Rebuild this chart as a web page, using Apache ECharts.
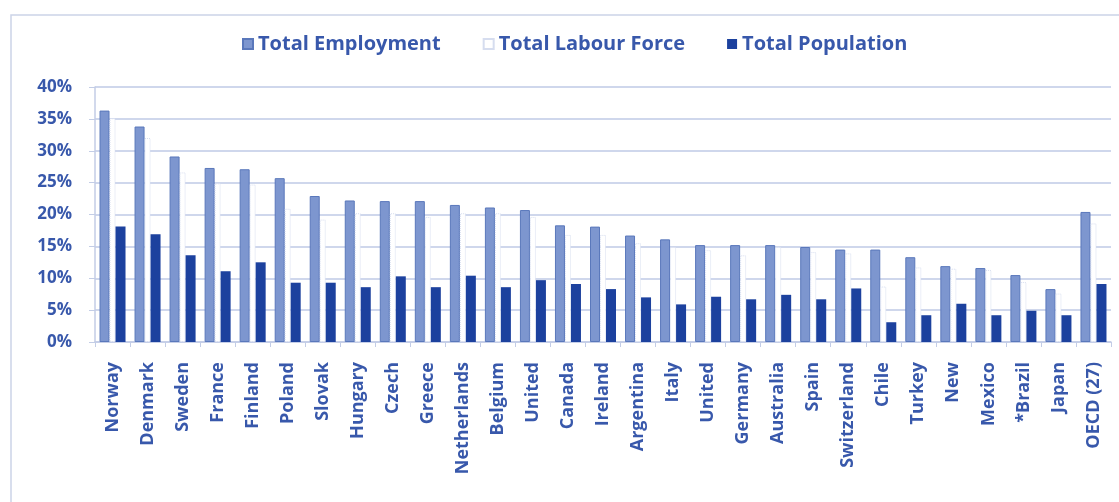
<!DOCTYPE html>
<html>
<head>
<meta charset="utf-8">
<title>Employment, labour force and population shares</title>
<script src="https://cdn.jsdelivr.net/npm/echarts@6/dist/echarts.min.js"></script>
<style>
  html, body { margin: 0; padding: 0; background: #ffffff; }
  #chart { width: 1119px; height: 502px; }
</style>
</head>
<body>
<div id="chart"></div>
<script>
// Countries, in the order shown on the axis
const categories = ['Norway', 'Denmark', 'Sweden', 'France', 'Finland', 'Poland', 'Slovak', 'Hungary',
  'Czech', 'Greece', 'Netherlands', 'Belgium', 'United', 'Canada', 'Ireland', 'Argentina', 'Italy',
  'United', 'Germany', 'Australia', 'Spain', 'Switzerland', 'Chile', 'Turkey', 'New', 'Mexico',
  '*Brazil', 'Japan', 'OECD (27)'];

// Shares in percent
const totalEmployment = [36.3, 33.8, 29.1, 27.3, 27.1, 25.7, 22.9, 22.2, 22.1, 22.1, 21.5, 21.1, 20.7,
  18.3, 18.1, 16.7, 16.1, 15.2, 15.2, 15.2, 14.9, 14.5, 14.5, 13.3, 11.9, 11.6, 10.5, 8.3, 20.4];
const totalLabourForce = [35.1, 32.0, 26.6, 24.9, 24.7, 20.9, 19.2, 20.2, 20.2, 19.6, 20.2, 20.2, 19.6,
  16.8, 16.8, 15.5, 14.9, 14.4, 13.6, 14.9, 14.1, 13.9, 8.7, 11.7, 11.5, 11.3, 9.4, 7.6, 18.6];
const totalPopulation = [18.1, 16.9, 13.6, 11.1, 12.5, 9.3, 9.3, 8.6, 10.3, 8.6, 10.4, 8.6, 9.7,
  9.1, 8.3, 7.0, 5.9, 7.1, 6.7, 7.4, 6.7, 8.4, 3.1, 4.2, 6.0, 4.2, 4.9, 4.2, 9.1];

const yTicks = { min: 0, max: 40, step: 5 };

const textColor = '#3858ab';
const fontFamily = '"Open Sans", sans-serif';

const chart = echarts.init(document.getElementById('chart'), null, { renderer: 'canvas' });

chart.setOption({
  animation: false,
  backgroundColor: '#ffffff',
  graphic: [{
    type: 'rect',
    shape: { x: 11, y: 15, width: 1130, height: 520 },
    style: { fill: 'none', stroke: '#ccd4e8', lineWidth: 1.5 },
    silent: true,
    z: -10
  }],
  legend: {
    left: 237,
    top: 29,
    itemWidth: 10,
    itemHeight: 10,
    itemGap: 42,
    textStyle: { color: textColor, fontFamily: fontFamily, fontWeight: 'bold', fontSize: 20, padding: [0, 0, 0, 0] },
    data: [
      { name: 'Total Employment', icon: 'rect' },
      { name: 'Total Labour Force', icon: 'rect' },
      { name: 'Total Population', icon: 'rect' }
    ]
  },
  grid: { left: 95, right: 8, top: 87, bottom: 160, containLabel: false },
  xAxis: {
    type: 'category',
    data: categories,
    axisLine: { show: true, lineStyle: { color: '#c3cde6', width: 1.5 } },
    axisTick: { show: true, alignWithLabel: false, length: 5, lineStyle: { color: '#c3cde6' } },
    axisLabel: {
      interval: 0,
      rotate: 90,
      margin: 20,
      color: textColor,
      fontFamily: fontFamily,
      fontWeight: 'bold',
      fontSize: 18
    }
  },
  yAxis: {
    type: 'value',
    min: yTicks.min,
    max: yTicks.max,
    interval: yTicks.step,
    axisLine: { show: true, lineStyle: { color: '#c3cde6', width: 1.5 } },
    axisTick: { show: true, length: 6, lineStyle: { color: '#c3cde6' } },
    axisLabel: {
      margin: 23,
      formatter: '{value}%',
      color: textColor,
      fontFamily: fontFamily,
      fontWeight: 'bold',
      fontSize: 17
    },
    splitLine: { show: true, lineStyle: { color: '#cfd7ec', width: 2 } }
  },
  series: [
    {
      name: 'Total Employment',
      type: 'bar',
      data: totalEmployment,
      barWidth: 10,
      barGap: '0%',
      itemStyle: { color: '#7d96cf', borderColor: '#5a78bb', borderWidth: 1 }
    },
    {
      name: 'Total Labour Force',
      type: 'bar',
      data: totalLabourForce,
      barWidth: 6,
      barGap: '0%',
      itemStyle: { color: '#ffffff', borderColor: '#d6ddef', borderWidth: 1, borderType: 'dotted' }
    },
    {
      name: 'Total Population',
      type: 'bar',
      data: totalPopulation,
      barWidth: 10,
      barGap: '0%',
      itemStyle: { color: '#1c419e' }
    }
  ]
});
</script>
</body>
</html>
